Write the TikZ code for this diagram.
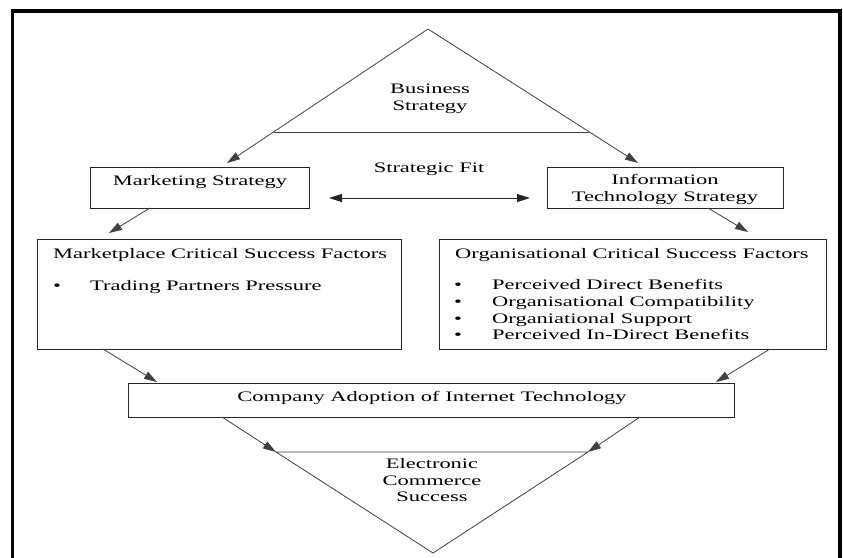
\documentclass[tikz,border=0pt]{standalone}
\usepackage{fontspec}
\setmainfont{Liberation Serif}[FakeStretch=1.55]
\usetikzlibrary{arrows.meta}
\begin{document}
\begin{tikzpicture}[x=1pt,y=-1pt,
  box/.style={draw=black!85, line width=0.9pt, inner sep=0pt, outer sep=0pt},
  lbl/.style={font=\fontsize{14.5}{17}\selectfont, inner sep=0pt, anchor=base},
  lblw/.style={font=\fontsize{14.5}{17}\selectfont, inner sep=0pt, anchor=base west},
  tri/.style={draw=black!75, line width=0.8pt},
  arr/.style={draw=black!75, line width=0.8pt, -{Triangle[length=13pt,width=8pt]}},
  arrtwo/.style={draw=black!85, line width=0.9pt, {Triangle[length=13pt,width=8pt]}-{Triangle[length=13pt,width=8pt]}}
]
\useasboundingbox (0,0) rectangle (843,557);
\clip (0,0) rectangle (843,557);
\fill[white] (0,0) rectangle (843,557);
% frame
\draw[line width=3.2pt] (12.5,570) -- (12.5,11) -- (840,11) -- (840,570);

% boxes
\node[box, minimum width=219pt, minimum height=41pt] (mkt) at (199.5,187.5) {};
\node[box, minimum width=236pt, minimum height=41pt] (its) at (665,187.5) {};
\node[box, minimum width=364pt, minimum height=110pt] (mcsf) at (219,294) {};
\node[box, minimum width=387pt, minimum height=110pt] (ocsf) at (632.5,294) {};
\node[box, minimum width=606pt, minimum height=34pt] (cad) at (431,400) {};

% top triangle
\coordinate (bsApex) at (428,29);
\coordinate (bsL) at (273.5,132);
\coordinate (bsR) at (589,132);
\draw[tri] (bsL) -- (bsR);
\draw[arr] (bsApex) -- ([xshift=27.5pt,yshift=4pt]mkt.north);
\draw[arr] (bsApex) -- ([xshift=-27pt,yshift=4pt]its.north);

% bottom triangle
\coordinate (ecApex) at (433,553);
\coordinate (ecL) at (276,452);
\coordinate (ecR) at (588,452);
\draw[tri] (ecL) -- (ecApex) -- (ecR) -- cycle;

% connectors
\draw[arrtwo] ([xshift=20pt,yshift=-10.5pt]mkt.east) -- ([xshift=-17pt,yshift=-10.5pt]its.west);
\draw[arr] ([xshift=-49.5pt]mkt.south) -- ([xshift=-110pt,yshift=6pt]mcsf.north);
\draw[arr] ([xshift=43pt]its.south) -- ([xshift=115.5pt,yshift=7pt]ocsf.north);
\draw[arr] ([xshift=-116pt]mcsf.south) -- ([xshift=-274pt,yshift=1pt]cad.north);
\draw[arr] ([xshift=137.5pt]ocsf.south) -- ([xshift=285pt,yshift=1pt]cad.north);
\draw[arr] ([xshift=-209pt]cad.south) -- (ecL);
\draw[arr] ([xshift=209pt]cad.south) -- (ecR);

% texts
\node[lbl] (bs1) at (430,93) {Business};
\node[lbl] (bs2) at (430,110) {Strategy};
\node[lbl] (sf) at (429,172) {Strategic Fit};
\node[lbl] (mkttxt) at (200,185) {Marketing Strategy};
\node[lbl] (it1) at (665,184) {Information};
\node[lbl] (it2) at (665,201) {Technology Strategy};
\node[lblw] (mt) at (53,258) {Marketplace Critical Success Factors};
\node[lbl] (mb1) at (57,290) {\textbullet};
\node[lblw] (m1) at (90,290) {Trading Partners Pressure};
\node[lblw] (ot) at (455,258) {Organisational Critical Success Factors};
\node[lbl] (ob1) at (458,289.5) {\textbullet};
\node[lbl] (ob2) at (458,306) {\textbullet};
\node[lbl] (ob3) at (458,323) {\textbullet};
\node[lbl] (ob4) at (458,339.5) {\textbullet};
\node[lblw] (o1) at (492,289.5) {Perceived Direct Benefits};
\node[lblw] (o2) at (492,306) {Organisational Compatibility};
\node[lblw] (o3) at (492,323) {Organiational Support};
\node[lblw] (o4) at (492,339.5) {Perceived In-Direct Benefits};
\node[lbl] (cadtxt) at (432,401) {Company Adoption of Internet Technology};
\node[lbl] (ec1) at (432,468) {Electronic};
\node[lbl] (ec2) at (432,485) {Commerce};
\node[lbl] (ec3) at (432,501) {Success};
\end{tikzpicture}
\end{document}
